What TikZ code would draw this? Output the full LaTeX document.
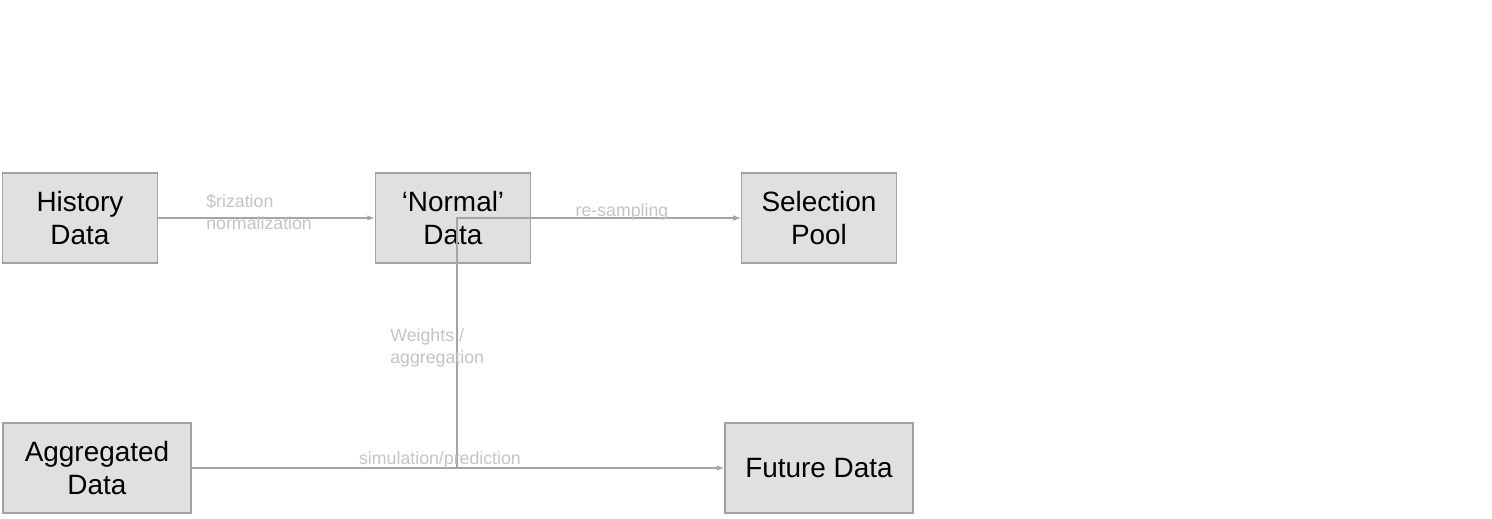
\documentclass[tikz,border=0pt]{standalone}
\usepackage{xcolor}
\usepackage{tikz}
\usetikzlibrary{arrows.meta}
\usepackage{fontspec}
\setmainfont{Liberation Sans}
\definecolor{boxfill}{RGB}{224, 224, 224}
\definecolor{boxline}{RGB}{162, 162, 162}
\definecolor{linkgray}{RGB}{165, 165, 165}
\definecolor{labelgray}{RGB}{196, 196, 196}

\begin{document}
\begin{tikzpicture}[
    x=0.02cm, y=-0.02cm,
    databox/.style={rectangle, draw=boxline, fill=boxfill, line width=0.85pt,
                    minimum width=3.1cm, minimum height=1.8cm, align=center,
                    inner sep=0pt, font=\fontsize{15.9}{19.2}\selectfont},
    widebox/.style={databox, minimum width=3.76cm},
    link/.style={draw=linkgray, line width=0.8pt, -{Latex[length=0.15cm, width=0.11cm]}},
    lbl/.style={text=labelgray, inner sep=0pt, align=left,
                font=\fontsize{10.1}{12.5}\selectfont}
]
    \useasboundingbox (0,0) rectangle (1492,518);

    % Boites de donnees
    \node[databox] (history) at (80,218) {History\\Data};
    \node[databox] (normal) at (453,218) {`Normal'\\Data};
    \node[databox] (pool) at (819,218) {Selection\\Pool};
    \node[widebox] (aggregated) at (97,468) {Aggregated\\Data};
    \node[widebox] (future) at (819,468) {Future Data};

    % Coude
    \coordinate (bend) at (457,468);

    % Fleches
    \draw[link] (history) -- (normal);
    \draw[link] (normal) -- (pool);
    \draw[link] (aggregated) -- (bend) |- (pool.west);
    \draw[link] (aggregated) -- (future);

    % Etiquettes
    \node[lbl, anchor=west] (lnorm) at (206,212) {\$rization\\normalization};
    \node[lbl, anchor=base] (lresamp) at (622,216.5) {re-sampling};
    \node[lbl, anchor=west] (lweights) at (390,348) {Weights /\\aggregation};
    \node[lbl, anchor=base] (lsim) at (440,464) {simulation/prediction};
\end{tikzpicture}
\end{document}
